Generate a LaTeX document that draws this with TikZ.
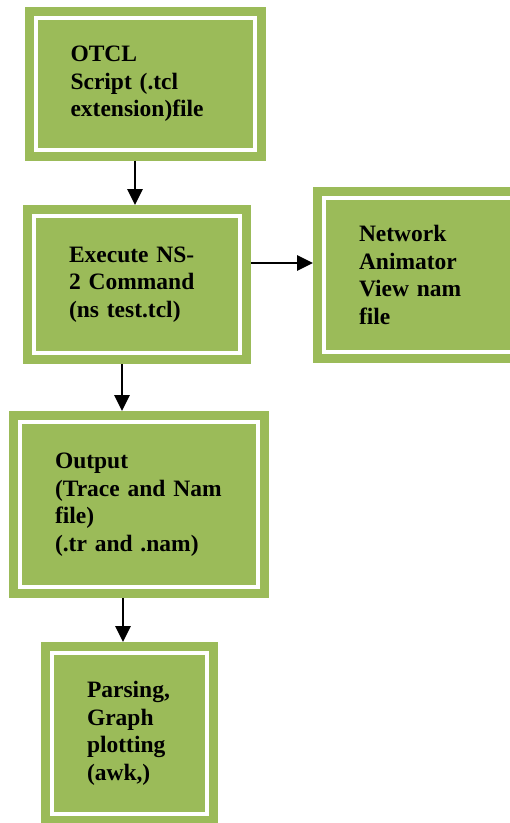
\documentclass[tikz,border=0pt]{standalone}
\usepackage{fontspec}
\setmainfont{Liberation Serif}
\usetikzlibrary{arrows.meta}
\definecolor{boxgreen}{HTML}{9BBB59}
\tikzset{
  stage/.style={rectangle, fill=boxgreen, draw=boxgreen, line width=9pt, double=white, double distance=4pt,
    outer sep=11pt, inner xsep=35pt, inner ysep=4pt, align=left,
    font=\bfseries\fontsize{23.5}{27.5}\selectfont},
  flow/.style={line width=2.8pt, -{Triangle[length=16pt,width=15pt]}}
}
\begin{document}
\begin{tikzpicture}[x=1pt,y=-1pt]
\clip (0,0) rectangle (510,823);
\fill[white] (0,0) rectangle (510,823);

\node (otcl) at (145.25,83.75) [stage, minimum width=219.5pt, minimum height=131.5pt, text width=149.5pt]{OTCL\\Script (.tcl\\extension)file};
\node (exec) at (137,284.5) [stage, minimum width=206pt, minimum height=137pt, text width=136pt]{Execute NS-\\2 Command\\(ns test.tcl)};
\node (nam) at (427,275) [stage, minimum width=206pt, minimum height=154pt, text width=136pt]{Network\\Animator\\View nam\\file};
\node (out) at (139,504.5) [stage, minimum width=238pt, minimum height=165pt, text width=168pt]{Output\\(Trace and Nam\\file)\\(.tr and .nam)};
\node (parse) at (129.5,733.25) [stage, minimum width=155pt, minimum height=160.5pt, text width=85pt]{Parsing,\\Graph\\plotting\\(awk,)};

\draw[flow] ([xshift=-2pt]exec.north |- otcl.south) -- ([xshift=-2pt]exec.north);
\draw[flow] ([yshift=21.5pt]exec.east) -- ([yshift=21.5pt]exec.east -| nam.west);
\draw[flow] ([xshift=-15pt]exec.south) -- ([xshift=-15pt]exec.south |- out.north);
\draw[flow] ([xshift=-16pt]out.south) -- ([xshift=-16pt]out.south |- parse.north);

\end{tikzpicture}
\end{document}
